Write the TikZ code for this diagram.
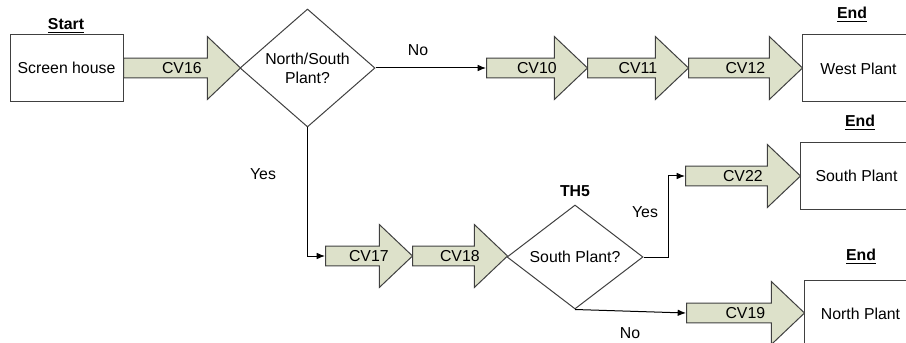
\documentclass[tikz,border=0pt]{standalone}
\usepackage{fontspec}
\setmainfont{Liberation Sans}
\usepackage{xcolor}
\usepackage{tikz}
\usetikzlibrary{arrows.meta,positioning,shapes.geometric,shapes.arrows}
\definecolor{cvfill}{RGB}{221,225,202}
\definecolor{edgegray}{RGB}{64,64,64}

\begin{document}
\begin{tikzpicture}[
  x=0.6pt, y=-0.6pt,
  font=\fontsize{9.5pt}{11.5pt}\selectfont,
  box/.style={draw=edgegray, line width=0.6pt, minimum width=67.8pt, minimum height=40.2pt, inner sep=0pt, align=center},
  decision/.style={diamond, draw=edgegray, line width=0.6pt, inner sep=0pt, align=center},
  cv/.style={single arrow, draw=edgegray, fill=cvfill, line width=0.6pt, minimum width=37.8pt, single arrow head extend=12.6pt, single arrow tip angle=87, inner xsep=0pt, inner ysep=2pt, anchor=tail, execute at begin node=\hspace*{6pt}},
  tag/.style={font=\fontsize{9.5pt}{11.5pt}\selectfont\bfseries},
  arr/.style={-{Latex[length=5pt,width=4pt]}, line width=0.6pt}
]
\clip (0,0) rectangle (906,343);
\node[box] (screen) at (66.5,68) {Screen house};
\node[tag] (start) at (66,26) {\underline{Start}};
\node[cv, minimum height=70.2pt] (cv16) at (123,68) {CV16};
\node[decision, minimum width=81pt, minimum height=70.8pt] (ns) at (307.5,68) {North/South\\Plant?};
\node[cv, minimum height=60.6pt] (cv10) at (486,68) {CV10};
\node[cv, minimum height=60.6pt] (cv11) at (587,68) {CV11};
\node[cv, minimum height=68.4pt] (cv12) at (688,68) {CV12};
\node[box] (west) at (858.5,68.5) {West Plant};
\node[tag] (end1) at (852,15) {\underline{End}};
\node[cv, minimum height=52.2pt] (cv17) at (325,256) {CV17};
\node[cv, minimum height=57pt] (cv18) at (412,256) {CV18};
\node[decision, minimum width=81.6pt, minimum height=62.4pt] (south) at (575,257) {South Plant?};
\node[tag] (th5) at (575,191) {TH5};
\node[cv, minimum height=69pt] (cv22) at (685,176) {CV22};
\node[box] (southp) at (856.5,176) {South Plant};
\node[tag] (end2) at (860,123) {\underline{End}};
\node[cv, minimum height=70.8pt] (cv19) at (686,313) {CV19};
\node[box] (north) at (860.5,313.5) {North Plant};
\node[tag] (end3) at (861,257) {\underline{End}};
\node (no1) at (418,50) {No};
\node (yes1) at (263,174) {Yes};
\node (yes2) at (645,212) {Yes};
\node (no2) at (630,333) {No};
\draw[arr] (ns.east) -- (cv10.tail);
\draw[arr] (ns.south) |- (cv17.tail);
\draw[arr] (south.east) -- ++(25,0) |- (cv22.tail);
\draw[arr] (south.south) -- (cv19.tail);
\end{tikzpicture}
\end{document}
